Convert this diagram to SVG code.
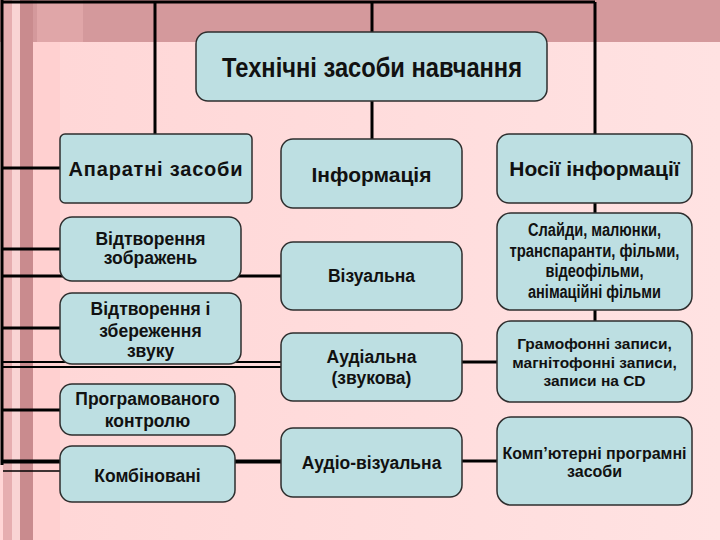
<svg xmlns="http://www.w3.org/2000/svg" width="720" height="540" viewBox="0 0 720 540">
<defs>
<linearGradient id="bg" x1="0" y1="0" x2="1" y2="0">
<stop offset="0" stop-color="#FFD6D6"/>
<stop offset="1" stop-color="#FFE2E2"/>
</linearGradient>
<style>
.box{fill:#BDDFE2;stroke:#2E2E2E;stroke-width:1.5}
.t{font-family:"Liberation Sans",Arial,sans-serif;font-weight:bold;fill:#111;text-anchor:middle}
.c{stroke:#000;fill:none}
</style>
</defs>
<g id="background">
<rect x="0" y="0" width="720" height="540" fill="url(#bg)"/>
<rect x="0" y="0" width="720" height="42" fill="#D4999C"/>
<rect x="37" y="0" width="46" height="42" fill="#E0A6A8"/>
<rect x="3" y="0" width="9" height="540" fill="#E6AEB0"/>
<rect x="12" y="0" width="8" height="540" fill="#F9D4D4"/>
<rect x="20" y="0" width="13" height="540" fill="#C98B8E"/>
<rect x="33" y="42" width="27" height="498" fill="#FFD0D0"/>
</g>
<g id="connectors">
<path class="c" stroke-width="3" d="M2,2 H595 M2,0 V465 M155,2 V134 M372,2 V32 M372,101 V139 M595,2 V321"/>
<path class="c" stroke-width="3" d="M2,168 H60 M2,249 H60 M2,276 H281 M2,328 H60 M2,410 H60"/>
<path class="c" stroke-width="2" d="M2,362 H281 M2,367 H281"/>
<path class="c" stroke-width="4" d="M2,461.5 H281"/>
<path class="c" stroke-width="1.5" d="M3,471 H60"/>
<path class="c" stroke-width="3" d="M462,362 H497 M462,461 H497"/>
</g>
<g id="n-main">
<rect class="box" x="196" y="32" width="351" height="69" rx="12"/>
<text class="t" x="372" y="77" font-size="27" textLength="300" lengthAdjust="spacingAndGlyphs">Технічні засоби навчання</text>
</g>
<g id="n-aparatni">
<rect class="box" x="60" y="134" width="192" height="69" rx="5"/>
<text class="t" x="156" y="176" font-size="20" letter-spacing="0.8">Апаратні засоби</text>
</g>
<g id="n-informatsiya">
<rect class="box" x="281" y="139" width="181" height="69" rx="12"/>
<text class="t" x="371.5" y="182" font-size="21">Інформація</text>
</g>
<g id="n-nosii">
<rect class="box" x="497" y="134" width="195" height="69" rx="12"/>
<text class="t" x="594.5" y="176" font-size="21">Носії інформації</text>
</g>
<g id="n-zobrazhen">
<rect class="box" x="60" y="217" width="181" height="64" rx="12"/>
<text class="t" x="150.5" y="245" font-size="17.5">Відтворення</text>
<text class="t" x="150.5" y="264" font-size="17.5">зображень</text>
</g>
<g id="n-vizualna">
<rect class="box" x="281" y="242" width="181" height="68" rx="12"/>
<text class="t" x="371.5" y="282" font-size="17.5">Візуальна</text>
</g>
<g id="n-slaidy">
<rect class="box" x="497" y="213" width="195" height="97" rx="14"/>
<text class="t" x="594.5" y="236" font-size="17.5" textLength="133" lengthAdjust="spacingAndGlyphs">Слайди, малюнки,</text>
<text class="t" x="594.5" y="256.5" font-size="17.5" textLength="170" lengthAdjust="spacingAndGlyphs">транспаранти, фільми,</text>
<text class="t" x="594.5" y="277" font-size="17.5" textLength="98" lengthAdjust="spacingAndGlyphs">відеофільми,</text>
<text class="t" x="594.5" y="298" font-size="17.5" textLength="133" lengthAdjust="spacingAndGlyphs">анімаційні фільми</text>
</g>
<g id="n-zvuk">
<rect class="box" x="60" y="293" width="181" height="71" rx="12"/>
<text class="t" x="150.5" y="315" font-size="17.5">Відтворення і</text>
<text class="t" x="150.5" y="337" font-size="17.5">збереження</text>
<text class="t" x="150.5" y="357" font-size="17.5">звуку</text>
</g>
<g id="n-audialna">
<rect class="box" x="281" y="333" width="181" height="68" rx="12"/>
<text class="t" x="371.5" y="363" font-size="17.5">Аудіальна</text>
<text class="t" x="371.5" y="384" font-size="17.5">(звукова)</text>
</g>
<g id="n-gramofon">
<rect class="box" x="497" y="321" width="195" height="81" rx="14"/>
<text class="t" x="594.5" y="349" font-size="15.5">Грамофонні записи,</text>
<text class="t" x="594.5" y="367.5" font-size="15.5">магнітофонні записи,</text>
<text class="t" x="594.5" y="386" font-size="15.5">записи на CD</text>
</g>
<g id="n-program">
<rect class="box" x="60" y="384" width="175" height="51" rx="12"/>
<text class="t" x="147.5" y="405" font-size="17.5">Програмованого</text>
<text class="t" x="147.5" y="427" font-size="17.5">контролю</text>
</g>
<g id="n-kombinovani">
<rect class="box" x="60" y="446" width="175" height="56" rx="12"/>
<text class="t" x="147.5" y="482" font-size="17.5">Комбіновані</text>
</g>
<g id="n-audiovizualna">
<rect class="box" x="281" y="428" width="181" height="69" rx="12"/>
<text class="t" x="371.5" y="469" font-size="17.5">Аудіо-візуальна</text>
</g>
<g id="n-kompyuterni">
<rect class="box" x="497" y="417" width="195" height="88" rx="14"/>
<text class="t" x="594.5" y="459" font-size="16">Комп’ютерні програмні</text>
<text class="t" x="594.5" y="477" font-size="16">засоби</text>
</g>
</svg>
